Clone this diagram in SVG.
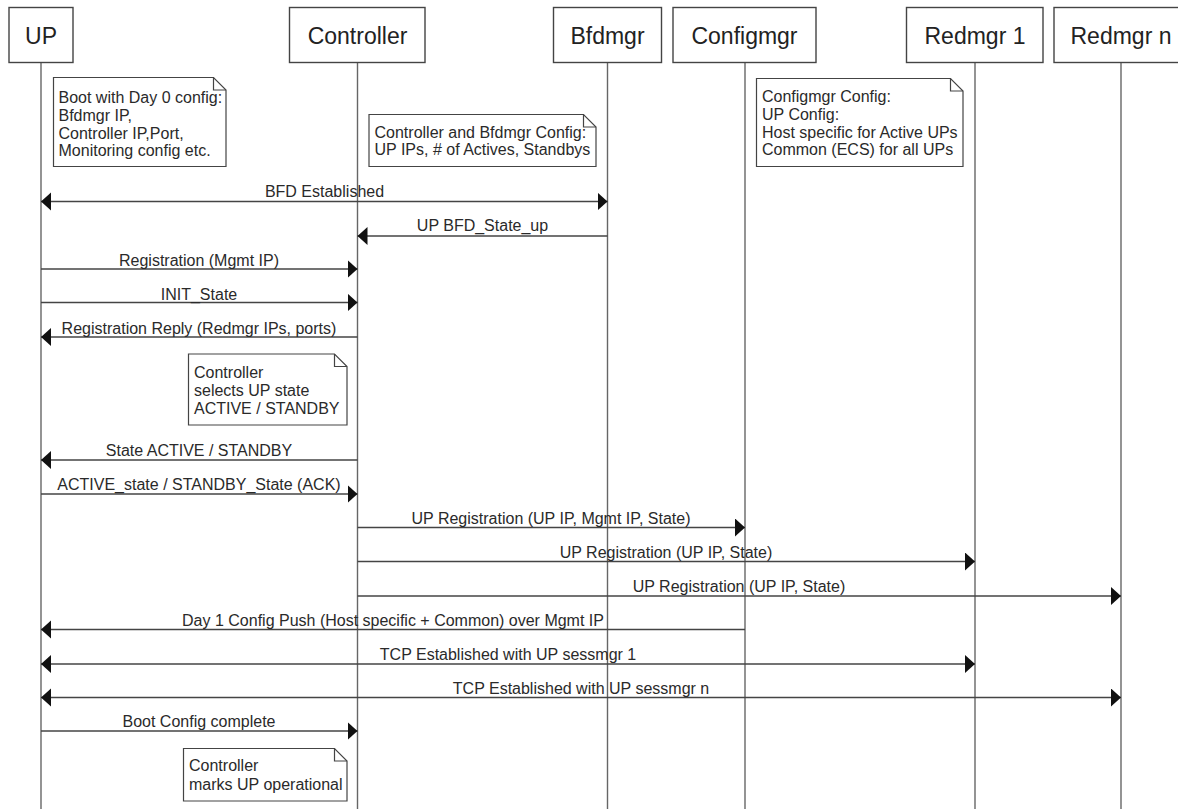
<svg xmlns="http://www.w3.org/2000/svg" width="1178" height="809" viewBox="0 0 1178 809">
<style>
.box{fill:#fff;stroke:#444;stroke-width:1.4}
.life{stroke:#666;stroke-width:1.4;fill:none}
.hdr{font-family:"Liberation Sans",Arial,sans-serif;font-size:23px;fill:#222;text-anchor:middle}
.note{fill:#fff;stroke:#444;stroke-width:1.2}
.fold{fill:none;stroke:#444;stroke-width:1.2}
.nt{font-family:"Liberation Sans",Arial,sans-serif;font-size:16px;fill:#2a2a2a}
.msg{stroke:#444;stroke-width:1.4;fill:none}
.lbl{font-family:"Liberation Sans",Arial,sans-serif;font-size:16px;fill:#2a2a2a;text-anchor:middle}
</style>
<defs>
<marker id="ah" markerUnits="userSpaceOnUse" markerWidth="11" markerHeight="19" refX="10" refY="9" orient="auto-start-reverse">
<path d="M0,0 L10,9 L0,18 z" fill="#111"/>
</marker>
</defs>
<rect width="1178" height="809" fill="#fff"/>

<g id="lifelines">
<line class="life" x1="41" y1="62" x2="41" y2="809"/>
<line class="life" x1="357.5" y1="62" x2="357.5" y2="809"/>
<line class="life" x1="607.5" y1="62" x2="607.5" y2="809"/>
<line class="life" x1="745" y1="62" x2="745" y2="809"/>
<line class="life" x1="975" y1="62" x2="975" y2="809"/>
<line class="life" x1="1121" y1="62" x2="1121" y2="809"/>
</g>

<g id="UP"><rect class="box" x="9" y="7.5" width="64" height="55"/><text class="hdr" x="41" y="44">UP</text></g>
<g id="Controller"><rect class="box" x="289.5" y="7.5" width="135.5" height="55"/><text class="hdr" x="357.5" y="44">Controller</text></g>
<g id="Bfdmgr"><rect class="box" x="553.5" y="7.5" width="108" height="55"/><text class="hdr" x="607.5" y="44">Bfdmgr</text></g>
<g id="Configmgr"><rect class="box" x="673" y="7.5" width="143" height="55"/><text class="hdr" x="744.5" y="44">Configmgr</text></g>
<g id="Redmgr1"><rect class="box" x="906.5" y="7.5" width="136.5" height="55"/><text class="hdr" x="975" y="44">Redmgr 1</text></g>
<g id="Redmgrn"><rect class="box" x="1054" y="7.5" width="134" height="55"/><text class="hdr" x="1121" y="44">Redmgr n</text></g>

<g id="note1">
<path class="note" d="M53.5,77.5 H213.5 L226,90 V166.5 H53.5 Z"/>
<path class="fold" d="M213.5,77.5 V90 H226"/>
<text class="nt" x="58.5" y="103">Boot with Day 0 config:</text>
<text class="nt" x="58.5" y="121">Bfdmgr IP,</text>
<text class="nt" x="58.5" y="138.5">Controller IP,Port,</text>
<text class="nt" x="58.5" y="156">Monitoring config etc.</text>
</g>
<g id="note2">
<path class="note" d="M369,114.5 H583.5 L596,127 V166.5 H369 Z"/>
<path class="fold" d="M583.5,114.5 V127 H596"/>
<text class="nt" x="374.5" y="137.5">Controller and Bfdmgr Config:</text>
<text class="nt" x="374.5" y="155">UP IPs, # of Actives, Standbys</text>
</g>
<g id="note3">
<path class="note" d="M756.5,78.5 H950.5 L963,91 V166.5 H756.5 Z"/>
<path class="fold" d="M950.5,78.5 V91 H963"/>
<text class="nt" x="762" y="102">Configmgr Config:</text>
<text class="nt" x="762" y="119.5">UP Config:</text>
<text class="nt" x="762" y="137.5">Host specific for Active UPs</text>
<text class="nt" x="762" y="155">Common (ECS) for all UPs</text>
</g>
<g id="note4">
<path class="note" d="M188.5,354 H334.5 L347,366.5 V425 H188.5 Z"/>
<path class="fold" d="M334.5,354 V366.5 H347"/>
<text class="nt" x="194" y="377.5">Controller</text>
<text class="nt" x="194" y="395.5">selects UP state</text>
<text class="nt" x="194" y="413.5">ACTIVE / STANDBY</text>
</g>
<g id="note5">
<path class="note" d="M183.5,748.5 H334.5 L347,761 V801 H183.5 Z"/>
<path class="fold" d="M334.5,748.5 V761 H347"/>
<text class="nt" x="189" y="771">Controller</text>
<text class="nt" x="189" y="789.5">marks UP operational</text>
</g>

<g id="connectors">
<line class="msg" x1="41" y1="201.5" x2="607.5" y2="201.5" marker-start="url(#ah)" marker-end="url(#ah)"/>
<text class="lbl" x="324.5" y="197">BFD Established</text>
<line class="msg" x1="607.5" y1="236" x2="357.5" y2="236" marker-end="url(#ah)"/>
<text class="lbl" x="482.5" y="231">UP BFD_State_up</text>
<line class="msg" x1="41" y1="269" x2="357.5" y2="269" marker-end="url(#ah)"/>
<text class="lbl" x="199" y="266">Registration (Mgmt IP)</text>
<line class="msg" x1="41" y1="302.5" x2="357.5" y2="302.5" marker-end="url(#ah)"/>
<text class="lbl" x="199" y="300">INIT_State</text>
<line class="msg" x1="357.5" y1="337" x2="41" y2="337" marker-end="url(#ah)"/>
<text class="lbl" x="199" y="334">Registration Reply (Redmgr IPs, ports)</text>
<line class="msg" x1="357.5" y1="460" x2="41" y2="460" marker-end="url(#ah)"/>
<text class="lbl" x="199" y="456">State ACTIVE / STANDBY</text>
<line class="msg" x1="41" y1="494" x2="357.5" y2="494" marker-end="url(#ah)"/>
<text class="lbl" x="199" y="490">ACTIVE_state / STANDBY_State (ACK)</text>
<line class="msg" x1="357.5" y1="527.5" x2="745" y2="527.5" marker-end="url(#ah)"/>
<text class="lbl" x="551" y="523.5">UP Registration (UP IP, Mgmt IP, State)</text>
<line class="msg" x1="357.5" y1="561.5" x2="975" y2="561.5" marker-end="url(#ah)"/>
<text class="lbl" x="666" y="557.5">UP Registration (UP IP, State)</text>
<line class="msg" x1="357.5" y1="596" x2="1121" y2="596" marker-end="url(#ah)"/>
<text class="lbl" x="739" y="592">UP Registration (UP IP, State)</text>
<line class="msg" x1="745" y1="629.5" x2="41" y2="629.5" marker-end="url(#ah)"/>
<text class="lbl" x="393" y="626">Day 1 Config Push (Host specific + Common) over Mgmt IP</text>
<line class="msg" x1="41" y1="664" x2="975" y2="664" marker-start="url(#ah)" marker-end="url(#ah)"/>
<text class="lbl" x="508" y="660">TCP Established with UP sessmgr 1</text>
<line class="msg" x1="41" y1="697.5" x2="1121" y2="697.5" marker-start="url(#ah)" marker-end="url(#ah)"/>
<text class="lbl" x="581" y="693.5">TCP Established with UP sessmgr n</text>
<line class="msg" x1="41" y1="731" x2="357.5" y2="731" marker-end="url(#ah)"/>
<text class="lbl" x="199" y="727">Boot Config complete</text>
</g>
</svg>
